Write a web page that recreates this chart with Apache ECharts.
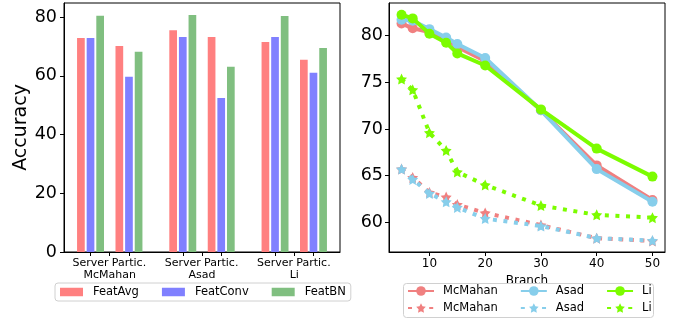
<!DOCTYPE html>
<html><head><meta charset="utf-8">
<script src="https://cdn.jsdelivr.net/npm/echarts@6/dist/echarts.min.js"></script>
<style>html,body{margin:0;padding:0;background:#fff}#c{width:677px;height:326px}</style>
</head><body><div id="c"></div>
<script>
// ---- left panel data ----
const methods = ['FeatAvg', 'FeatConv', 'FeatBN'];
const groups = ['McMahan', 'Asad', 'Li'];
const roles = ['Server', 'Partic.'];
const barPositions = [0, 1, 2.4, 3.4, 4.8, 5.8];
const featAvg = [72.9, 70.2, 75.6, 73.3, 71.6, 65.5];
const featConv = [72.9, 59.7, 73.3, 52.5, 73.3, 61.1];
const featBN = [80.5, 68.2, 80.8, 63.1, 80.4, 69.5];
const accTicks = [0, 20, 40, 60, 80];

// ---- right panel data ----
const branches = [5, 7, 10, 13, 15, 20, 30, 40, 50];
const mcmahanSolid = [81.3, 80.8, 80.4, 79.6, 78.8, 77.3, 72.0, 66.1, 62.4];
const asadSolid = [81.7, 81.6, 80.7, 79.8, 79.1, 77.6, 72.0, 65.7, 62.2];
const liSolid = [82.25, 81.85, 80.2, 79.25, 78.1, 76.8, 72.1, 67.9, 64.9];
const mcmahanDotted = [65.7, 64.8, 63.2, 62.7, 61.9, 61.0, 59.7, 58.3, 58.0];
const asadDotted = [65.7, 64.6, 63.1, 62.2, 61.6, 60.4, 59.6, 58.3, 58.05];
const liDotted = [75.35, 74.2, 69.6, 67.7, 65.4, 64.0, 61.8, 60.8, 60.5];
const branchTicks = [10, 20, 30, 40, 50];
const branchAccTicks = [60, 65, 70, 75, 80];

const FONT = 'DejaVu Sans';
const STAR = 'path://M0,-10L2.94,-4.05L9.51,-3.09L4.76,1.55L5.88,8.09L0,5L-5.88,8.09L-4.76,1.55L-9.51,-3.09L-2.94,-4.05Z';

// tick positions/labels for the grouped bar axis
const roleTickVals = [];
const roleTickText = [];
const groupCenters = [];
groups.forEach((g, gi) => {
  const a = barPositions[gi * 2], b = barPositions[gi * 2 + 1];
  roleTickVals.push(a, b);
  roleTickText.push(roles[0], roles[1]);
  groupCenters.push((a + b) / 2);
});
const allTickVals = roleTickVals.concat(groupCenters).sort((x, y) => x - y);
function lookup(vals, texts, v) {
  for (let i = 0; i < vals.length; i++) {
    if (Math.abs(vals[i] - v) < 1e-6) return texts[i];
  }
  return '';
}

const barColors = ['#FF8080', '#8080FF', '#80BF80'];
const barData = [featAvg, featConv, featBN];
const lineColors = ['#F08080', '#87CEEB', '#7CFC00'];
const solidData = [mcmahanSolid, asadSolid, liSolid];
const dottedData = [mcmahanDotted, asadDotted, liDotted];

const series = [];
methods.forEach((m, i) => {
  series.push({
    name: m, type: 'bar', xAxisIndex: 0, yAxisIndex: 0,
    barWidth: 7.7, barGap: '25%',
    itemStyle: { color: barColors[i] },
    data: barPositions.map((p, k) => [p, barData[i][k]])
  });
});
let zc = 2;
groups.forEach((g, i) => {
  series.push({
    name: g, type: 'line', xAxisIndex: 1, yAxisIndex: 1, z: zc++,
    symbol: 'circle', symbolSize: 10, showSymbol: true,
    color: lineColors[i],
    itemStyle: { color: lineColors[i] },
    lineStyle: { width: 4, color: lineColors[i] },
    data: branches.map((b, k) => [b, solidData[i][k]])
  });
  series.push({
    name: g + '*', type: 'line', xAxisIndex: 1, yAxisIndex: 1, z: zc++,
    symbol: STAR, symbolSize: 11, showSymbol: true,
    color: lineColors[i],
    itemStyle: { color: lineColors[i] },
    lineStyle: { width: 4, color: lineColors[i], type: [4, 6.6], cap: 'butt' },
    data: branches.map((b, k) => [b, dottedData[i][k]])
  });
});

const axisLine = { show: true, onZero: false, lineStyle: { color: '#000', width: 1 } };
const tickStyle = { lineStyle: { color: '#000', width: 1 }, length: 4 };

const option = {
  animation: false,
  backgroundColor: '#fff',
  textStyle: { fontFamily: FONT, color: '#000' },
  grid: [
    { left: 64, top: 3, width: 276, height: 249, show: true, borderColor: '#000', borderWidth: 1, containLabel: false },
    { left: 389, top: 3, width: 276, height: 249, show: true, borderColor: '#000', borderWidth: 1, containLabel: false }
  ],
  xAxis: [
    {
      type: 'value', gridIndex: 0, min: -0.69, max: 6.49,
      axisLine: axisLine, splitLine: { show: false },
      axisTick: Object.assign({ show: true, customValues: allTickVals }, tickStyle),
      axisLabel: {
        customValues: roleTickVals, formatter: v => lookup(roleTickVals, roleTickText, v),
        showMinLabel: true, showMaxLabel: true, hideOverlap: false,
        fontFamily: FONT, fontSize: 11, color: '#000', margin: 6
      }
    },
    {
      type: 'value', gridIndex: 1, min: 2.75, max: 52.25,
      axisLine: axisLine, splitLine: { show: false },
      axisTick: Object.assign({ show: true, customValues: branchTicks }, tickStyle),
      axisLabel: { customValues: branchTicks, fontFamily: FONT, fontSize: 12, color: '#000', margin: 6 },
      name: 'Branch', nameLocation: 'middle', nameGap: 20,
      nameTextStyle: { fontFamily: FONT, fontSize: 12, color: '#000' }
    },
    {
      type: 'value', gridIndex: 0, min: -0.69, max: 6.49, position: 'bottom',
      axisLine: { show: false }, axisTick: { show: false }, splitLine: { show: false },
      axisLabel: {
        customValues: groupCenters, formatter: v => lookup(groupCenters, groups, v),
        hideOverlap: false,
        fontFamily: FONT, fontSize: 11, color: '#000', margin: 18
      }
    }
  ],
  yAxis: [
    {
      type: 'value', gridIndex: 0, min: 0, max: 84.85,
      axisLine: axisLine, splitLine: { show: false },
      axisTick: Object.assign({ show: true, customValues: accTicks }, tickStyle),
      axisLabel: { customValues: accTicks, fontFamily: FONT, fontSize: 17.5, color: '#000', margin: 7 },
      name: 'Accuracy', nameLocation: 'middle', nameGap: 32,
      nameTextStyle: { fontFamily: FONT, fontSize: 19, color: '#000' }
    },
    {
      type: 'value', gridIndex: 1, min: 56.82, max: 83.5,
      axisLine: axisLine, splitLine: { show: false },
      axisTick: Object.assign({ show: true, customValues: branchAccTicks }, tickStyle),
      axisLabel: { customValues: branchAccTicks, fontFamily: FONT, fontSize: 17.5, color: '#000', margin: 6 }
    }
  ],
  legend: [
    {
      data: methods, left: 55, top: 283, orient: 'horizontal',
      itemWidth: 23, itemHeight: 8.5, itemGap: 23, icon: 'rect',
      padding: [3, 5, 3, 5], borderColor: '#d0d0d0', borderWidth: 1, borderRadius: 3,
      backgroundColor: 'rgba(255,255,255,0.8)',
      textStyle: { fontFamily: FONT, fontSize: 11.5, color: '#000', padding: [0, 0, 0, 5] }
    },
    {
      data: groups, left: 407, top: 285, orient: 'horizontal',
      itemWidth: 26, itemHeight: 12, itemGap: 22, padding: 0,
      textStyle: { fontFamily: FONT, fontSize: 11.5, color: '#000', padding: [0, 0, 0, 4] }
    },
    {
      data: groups.map(g => g + '*'), left: 407, top: 302, orient: 'horizontal',
      itemWidth: 26, itemHeight: 12, itemGap: 22, padding: 0,
      formatter: n => n.replace('*', ''),
      textStyle: { fontFamily: FONT, fontSize: 11.5, color: '#000', padding: [0, 0, 0, 4] }
    }
  ],
  graphic: [
    {
      type: 'rect', z: 3, silent: true,
      shape: { x: 403.5, y: 283.5, width: 250, height: 34, r: 3 },
      style: { fill: 'rgba(255,255,255,0.8)', stroke: '#d0d0d0', lineWidth: 1 }
    }
  ],
  series: series
};

const chart = echarts.init(document.getElementById('c'), null, { renderer: 'canvas' });
chart.setOption(option);
</script>
</body></html>
